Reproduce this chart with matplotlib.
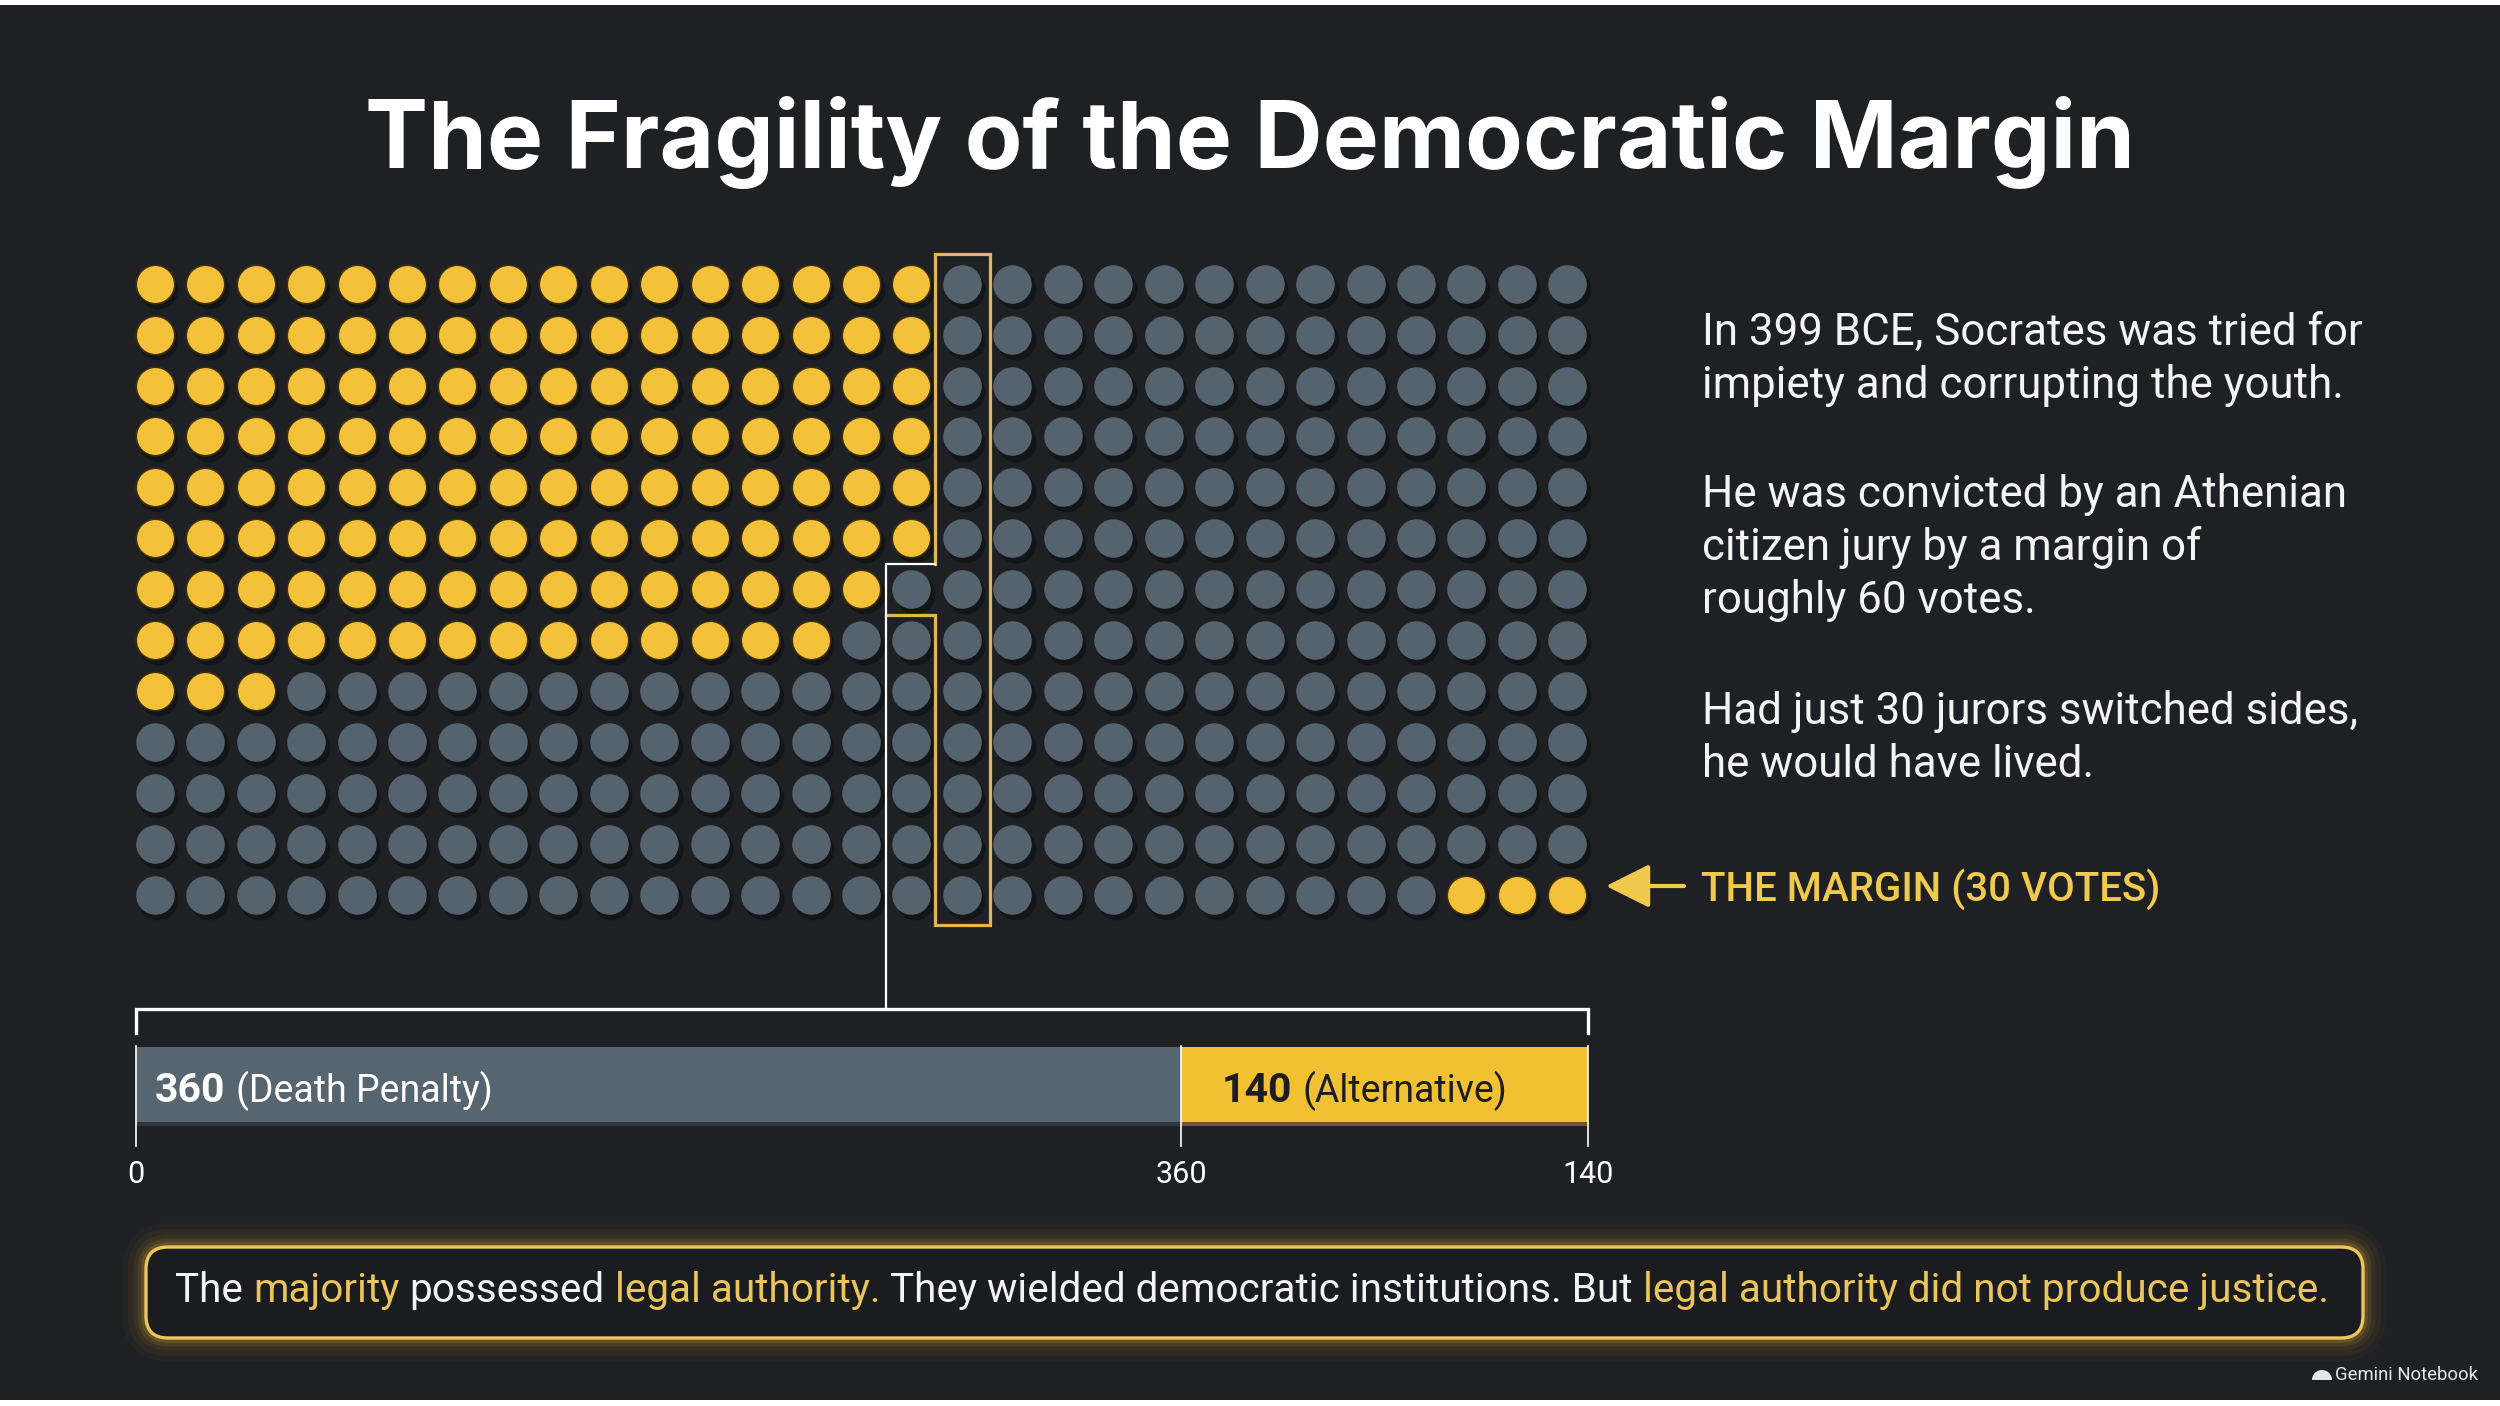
import matplotlib
matplotlib.use("Agg")
import matplotlib.pyplot as plt
import numpy as np
from matplotlib.patches import FancyBboxPatch, Rectangle, Wedge

# ---------------- data ----------------
n_cols = 29
n_rows = 13
yellow_per_row = [16, 16, 16, 16, 16, 16, 15, 14, 3, 0, 0, 0, 0]
margin_dots = 3            # yellow dots at the end of the last row
margin_step_row = 6        # row where the margin outline steps left
bar_categories = ["Death Penalty", "Alternative"]
bar_values = [360, 140]
tick_labels = ["0", "360", "140"]
title_text = "The Fragility of the Democratic Margin"
body_lines = [
    "In 399 BCE, Socrates was tried for",
    "impiety and corrupting the youth.",
    "He was convicted by an Athenian",
    "citizen jury by a margin of",
    "roughly 60 votes.",
    "Had just 30 jurors switched sides,",
    "he would have lived.",
]
margin_label = "THE MARGIN (30 VOTES)"
footer_parts = [
    ("The", "w"), ("majority", "y"), ("possessed", "w"), ("legal authority.", "y"),
    ("They wielded democratic institutions. But", "w"),
    ("legal authority did not produce justice.", "y"),
]
watermark = "Gemini Notebook"

# ---------------- style ----------------
W, H = 2500, 1406
BG = "#1F2024"
GRAY = "#55636F"
YEL = "#F3C13A"
BAR_GRAY = "#56656F"
BAR_YEL = "#F2C133"
OUT_Y = "#E2B650"
TXT_Y = "#F0C94F"
FOOT_Y = "#EBC45C"
WHITE = "#F4F4F4"
FONT = "Roboto"

fig = plt.figure(figsize=(25, 14.06), dpi=100, facecolor=BG)

# ---------------- waffle ----------------
col0, dx = 154.7, 50.45
row0, dy = 283.8, 50.9
wl = col0 - dx / 2
wt = row0 - dy / 2
wa = fig.add_axes([wl / W, 1 - (wt + n_rows * dy) / H, n_cols * dx / W, n_rows * dy / H])
wa.set_xlim(-0.5, n_cols - 0.5)
wa.set_ylim(n_rows - 0.5, -0.5)
wa.axis("off")

gx, gy, yx, yy = [], [], [], []
for r in range(n_rows):
    for c in range(n_cols):
        is_y = c < yellow_per_row[r] or (r == n_rows - 1 and c >= n_cols - margin_dots)
        if is_y:
            yx.append(c); yy.append(r)
        else:
            gx.append(c); gy.append(r)
ax_all = np.array(gx + yx, dtype=float)
ay_all = np.array(gy + yy, dtype=float)
wa.scatter(ax_all + 0.07, ay_all + 0.10, s=820, color="#101114", alpha=0.7, lw=0, zorder=1)
wa.scatter(gx, gy, s=770, color=GRAY, lw=0, zorder=2)
wa.scatter(yx, yy, s=770, color=YEL, edgecolors="#3a2e0c", linewidths=1.2, zorder=3)

# margin outline
BRACKET_Y = 1009
mc = yellow_per_row[0]
nc = yellow_per_row[margin_step_row]
r = margin_step_row
xl, xr = mc - 0.53, mc + 0.56
yt, yb = -0.59, n_rows - 0.4
ypath = [(xl, r - 0.5), (xl, yt), (xr, yt), (xr, yb), (xl, yb), (xl, r + 0.5), (nc - 0.5, r + 0.5)]
wa.plot(*zip(*ypath), color=OUT_Y, lw=2.3, solid_joinstyle="miter", clip_on=False, zorder=4)
bracket_dy = (BRACKET_Y - row0) / dy
wpath = [(nc - 0.5, bracket_dy), (nc - 0.5, r - 0.5), (xl, r - 0.5)]
wa.plot(*zip(*wpath), color="white", lw=1.6, solid_joinstyle="miter", clip_on=False, zorder=4)

# ---------------- stacked bar ----------------
BAR_L, BAR_R = 135.5, 1588
BA_T, BA_B = 990, 1200
ba = fig.add_axes([BAR_L / W, 1 - BA_B / H, (BAR_R - BAR_L) / W, (BA_B - BA_T) / H])
total = sum(bar_values)
ba.set_xlim(0, total)
ba.set_ylim(BA_B, BA_T)
ba.axis("off")
lefts = np.cumsum([0] + bar_values[:-1])
ba.barh(1086, bar_values, left=lefts, height=79, color=[BAR_GRAY, BAR_YEL], zorder=2)
ba.barh(1124, bar_values, left=lefts, height=4, color="#15161a", alpha=0.6, zorder=2)
ba.plot([0, 0, total, total], [1033, BRACKET_Y, BRACKET_Y, 1033], color="white", lw=2.4,
        solid_joinstyle="miter", clip_on=False, zorder=3)
tick_pos = np.cumsum([0] + bar_values)
for t, lab in zip(tick_pos, tick_labels):
    ba.plot([t, t], [1046, 1146], color="white", lw=1.2, zorder=3, clip_on=False)
    ba.text(t, 1183, lab, ha="center", va="baseline", fontsize=22, color="white", family=FONT)

# ---------------- overlay (layout in pixels) ----------------
ov = fig.add_axes([0, 0, 1, 1])
ov.set_xlim(0, W)
ov.set_ylim(H, 0)
ov.axis("off")
ov.set_zorder(10)
ov.patch.set_visible(False)

R = fig.canvas.get_renderer()


def width(t):
    return t.get_window_extent(R).width


def space_w(props):
    a = ov.text(0, 0, "x x", **props)
    b = ov.text(0, 0, "xx", **props)
    g = width(a) - width(b)
    a.remove(); b.remove()
    return g


def place_runs(runs, x, y, ha="left"):
    texts = [ov.text(0, y, s, va="baseline", ha="left", **p) for s, p in runs]
    ws = [width(t) for t in texts]
    gaps = [space_w(p) for _, p in runs]
    tot = sum(ws) + sum(gaps[:-1])
    cur = x if ha == "left" else x - tot / 2
    for t, w_, g in zip(texts, ws, gaps):
        t.set_x(cur)
        cur += w_ + g
    return texts, tot


def fit(t, target):
    fs = t.get_fontsize()
    t.set_fontsize(fs * target / width(t))


# title
tt = ov.text(1250, 168, title_text, ha="center", va="baseline", fontsize=60,
             fontweight="bold", color="white", family="Inter")
fit(tt, 1770)

# body text
baselines = [345, 398, 507, 560, 613, 724, 777]
probe = ov.text(1702, 345, body_lines[0], fontsize=28, family=FONT, color=WHITE)
fit(probe, 660)
body_fs = probe.get_fontsize()
probe.remove()
for line, yb_ in zip(body_lines, baselines):
    ov.text(1702, yb_, line, ha="left", va="baseline", fontsize=body_fs, family=FONT, color=WHITE)

# margin label + arrow
ml = ov.text(1701, 901, margin_label, ha="left", va="baseline", fontsize=28, family=FONT,
             fontweight="medium", color=TXT_Y)
fit(ml, 459)
ov.annotate("", xy=(1606, 886), xytext=(1684, 886),
            arrowprops=dict(arrowstyle="-|>,head_length=0.9,head_width=0.45", color=TXT_Y,
                            lw=3, mutation_scale=30, shrinkA=0, shrinkB=0))

# bar labels
num_p = dict(fontsize=29.5, family=FONT, fontweight="bold")
lab_p = dict(fontsize=27, family=FONT)
place_runs([(str(bar_values[0]), dict(num_p, color="white")),
            (f"({bar_categories[0]})", dict(lab_p, color="white"))], 155, 1102)
place_runs([(str(bar_values[1]), dict(num_p, color="#1d1d1f")),
            (f"({bar_categories[1]})", dict(lab_p, color="#1d1d1f"))], 1222, 1102)

# footer box with glow
bx, by, bw, bh = 146, 1247, 2217, 91
for lw, a in [(34, 0.03), (26, 0.05), (18, 0.07), (12, 0.11), (7, 0.18)]:
    ov.add_patch(FancyBboxPatch((bx, by), bw, bh, boxstyle="round,pad=0,rounding_size=22",
                                fc="none", ec="#D8A82C", lw=lw, alpha=a, zorder=1))
ov.add_patch(FancyBboxPatch((bx, by), bw, bh, boxstyle="round,pad=0,rounding_size=22",
                            fc="#1B1C20", ec="#EBC65E", lw=2.4, zorder=2))

cmap = {"w": WHITE, "y": FOOT_Y}
base_fs = 26
runs = [(s, dict(fontsize=base_fs, family=FONT, color=cmap[c], zorder=3)) for s, c in footer_parts]
texts, tot = place_runs(runs, 1252, 1302, ha="center")
for t in texts:
    t.remove()
scale = 2151 / tot
runs = [(s, dict(fontsize=base_fs * scale, family=FONT, color=cmap[c], zorder=3)) for s, c in footer_parts]
place_runs(runs, 1252, 1302, ha="center")

# watermark
wm = ov.text(2335, 1380, watermark, ha="left", va="baseline", fontsize=13, family=FONT, color="#E6E6E6")
fit(wm, 143)
ov.add_patch(Wedge((2322, 1380), 10, 180, 360, color="#E6E6E6", lw=0))

# screenshot border strips
ov.add_patch(Rectangle((0, 0), W, 5, color="white", lw=0, zorder=20))
ov.add_patch(Rectangle((0, 1400), W, 6, color="white", lw=0, zorder=20))

fig.savefig("out.png", dpi=100, facecolor=BG)
